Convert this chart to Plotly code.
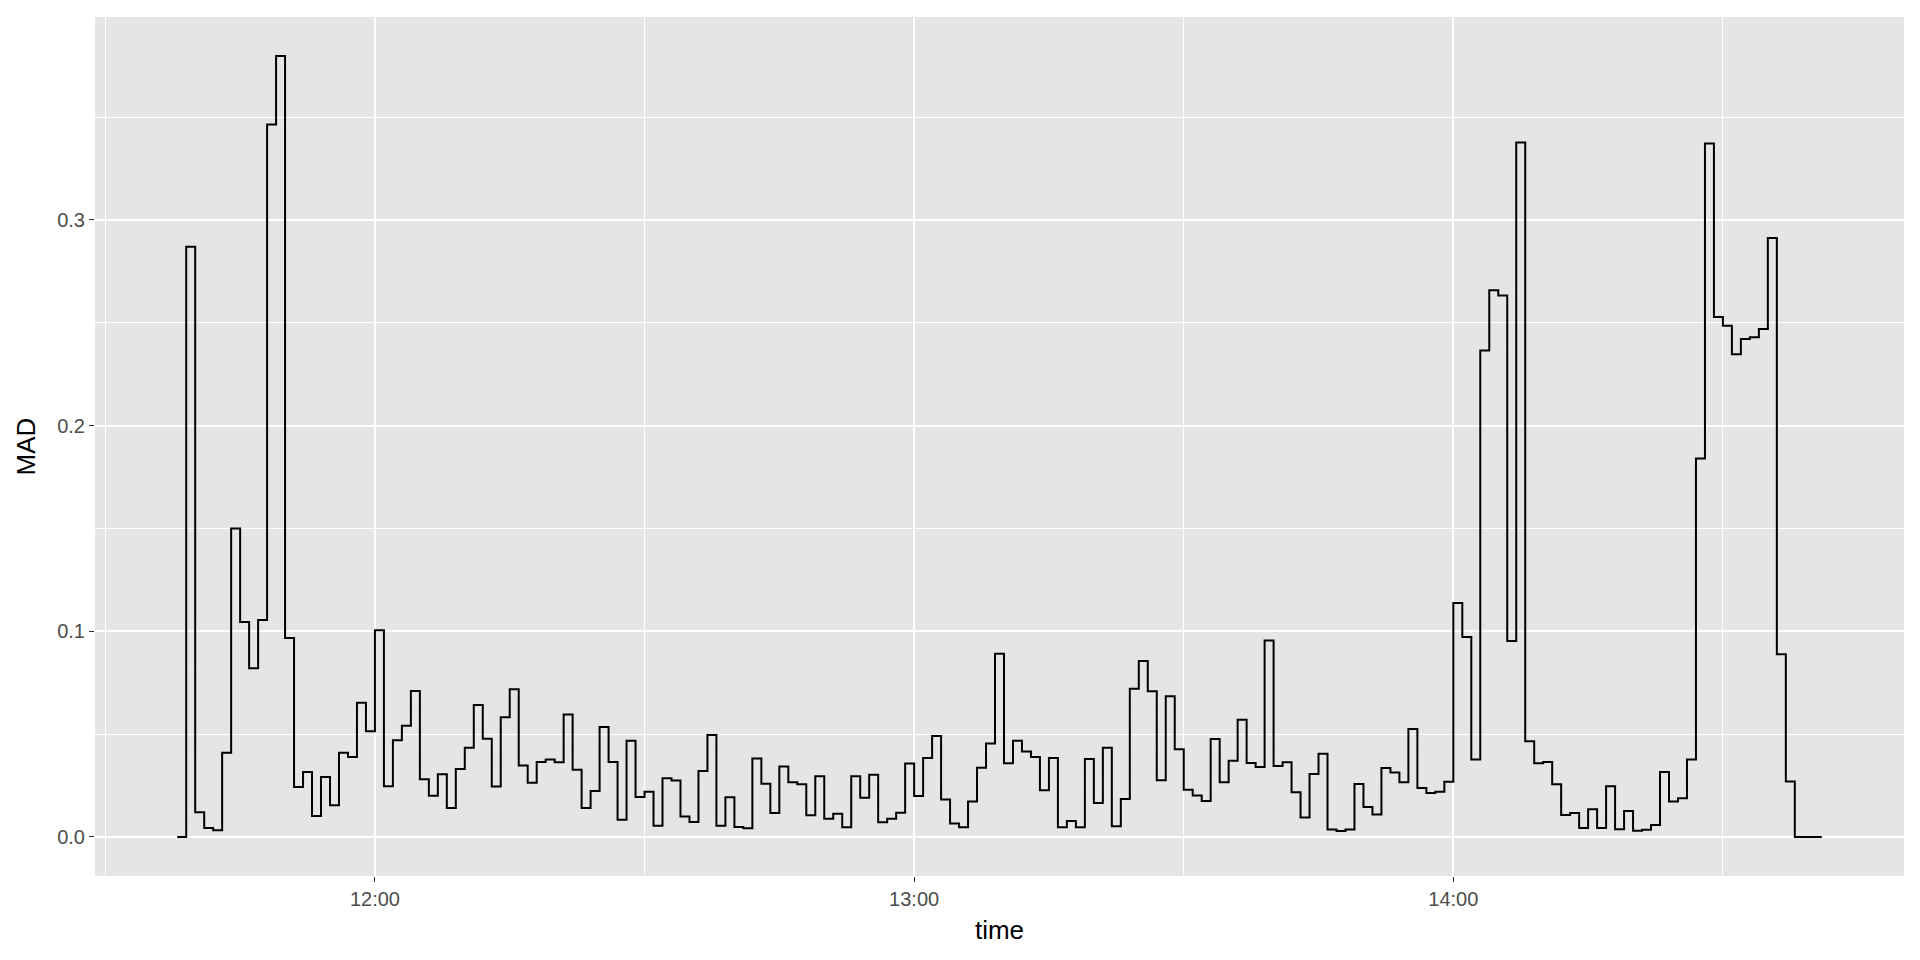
import pandas as pd
import plotly.graph_objects as go

start_time = "2020-01-01 11:38"
mad_values = [
    0, 0.287, 0.012, 0.0043, 0.0033, 0.041, 0.150, 0.1045, 0.082, 0.1055,
    0.3464, 0.3797, 0.0967, 0.0243, 0.0316, 0.0102, 0.0292, 0.0154, 0.041, 0.0389,
    0.0652, 0.0514, 0.1005, 0.0246, 0.047, 0.0541, 0.071, 0.028, 0.020, 0.0305,
    0.0141, 0.0331, 0.0434, 0.0642, 0.0478, 0.0245, 0.0582, 0.0718, 0.0347, 0.0263,
    0.0365, 0.0376, 0.0363, 0.0595, 0.0327, 0.0141, 0.0224, 0.0535, 0.0365, 0.0084,
    0.0468, 0.0194, 0.022, 0.0055, 0.0285, 0.0274, 0.0099, 0.0073, 0.0321, 0.0496,
    0.0055, 0.0193, 0.0049, 0.0042, 0.0381, 0.0259, 0.0117, 0.0342, 0.0266, 0.0256,
    0.0105, 0.0295, 0.0088, 0.0113, 0.0047, 0.0295, 0.0191, 0.0303, 0.0071, 0.0088,
    0.0118, 0.0357, 0.0199, 0.0384, 0.0491, 0.0182, 0.0065, 0.0047, 0.0172, 0.0337,
    0.0455, 0.0891, 0.0358, 0.0468, 0.0415, 0.0389, 0.0227, 0.0384, 0.0047, 0.0078,
    0.0047, 0.0379, 0.0165, 0.0434, 0.0052, 0.0185, 0.0721, 0.0856, 0.0708, 0.0276,
    0.0684, 0.0426, 0.023, 0.0201, 0.0175, 0.0476, 0.0266, 0.0371, 0.057, 0.036,
    0.034, 0.0955, 0.0345, 0.0363, 0.0217, 0.0094, 0.0306, 0.0404, 0.0036, 0.0029,
    0.0036, 0.0258, 0.0146, 0.0109, 0.0335, 0.0313, 0.0266, 0.0525, 0.0238, 0.0214,
    0.022, 0.0269, 0.1138, 0.0972, 0.0377, 0.2365, 0.2658, 0.2633, 0.0953, 0.3377,
    0.0465, 0.0358, 0.0365, 0.0256, 0.0107, 0.0116, 0.0044, 0.0135, 0.0044, 0.0247,
    0.0037, 0.0126, 0.003, 0.0035, 0.0058, 0.0316, 0.0172, 0.0188, 0.0377, 0.184,
    0.3372, 0.2528, 0.2486, 0.2347, 0.2421, 0.243, 0.247, 0.2912, 0.0888, 0.027,
    0, 0, 0, 0,
]
times = pd.date_range(start=start_time, periods=len(mad_values), freq="min")

x_tick_vals = ["2020-01-01 12:00", "2020-01-01 13:00", "2020-01-01 14:00"]
x_tick_text = ["12:00", "13:00", "14:00"]
x_minor_vals = ["2020-01-01 11:30", "2020-01-01 12:30", "2020-01-01 13:30", "2020-01-01 14:30"]
y_tick_vals = [0.0, 0.1, 0.2, 0.3]
y_tick_text = ["0.0", "0.1", "0.2", "0.3"]
y_minor_vals = [0.05, 0.15, 0.25, 0.35]

# ggplot-like 5% expansion
span = times[-1] - times[0]
x_range = [times[0] - span * 0.05, times[-1] + span * 0.05]
ymax = max(mad_values)
y_range = [-0.05 * ymax, ymax * 1.05]

fig = go.Figure()
fig.add_trace(go.Scatter(
    x=times, y=mad_values, mode="lines",
    line=dict(shape="hv", color="black", width=2),
    showlegend=False,
))

font_family = "Liberation Sans, Arial, sans-serif"
# page body has an 8px margin; figure sized to fit the 1920x960 window
fig.update_layout(
    width=1904, height=944,
    paper_bgcolor="white", plot_bgcolor="#E5E5E5",
    margin=dict(l=87, r=8, t=9, b=76),
    font=dict(family=font_family, color="black"),
    xaxis=dict(
        range=x_range, type="date", automargin=False,
        tickmode="array", tickvals=x_tick_vals, ticktext=x_tick_text,
        tickfont=dict(size=20, color="#4D4D4D", family=font_family),
        ticks="outside", ticklen=5, tickwidth=1.2, tickcolor="#333333",
        showgrid=True, gridcolor="white", gridwidth=2,
        minor=dict(tickmode="array", tickvals=x_minor_vals, showgrid=True,
                   gridcolor="white", gridwidth=1, ticks=""),
        zeroline=False, showline=False,
        title=dict(text="time", font=dict(size=26, color="black", family=font_family), standoff=11),
    ),
    yaxis=dict(
        range=y_range, automargin=False,
        tickmode="array", tickvals=y_tick_vals, ticktext=y_tick_text,
        tickfont=dict(size=20, color="#4D4D4D", family=font_family),
        ticks="outside", ticklen=5, tickwidth=1.2, tickcolor="#333333",
        showgrid=True, gridcolor="white", gridwidth=2,
        minor=dict(tickmode="array", tickvals=y_minor_vals, showgrid=True,
                   gridcolor="white", gridwidth=1, ticks=""),
        zeroline=False, showline=False,
        title=dict(text="MAD", font=dict(size=26, color="black", family=font_family), standoff=14),
    ),
)

fig.write_html("out.html")
